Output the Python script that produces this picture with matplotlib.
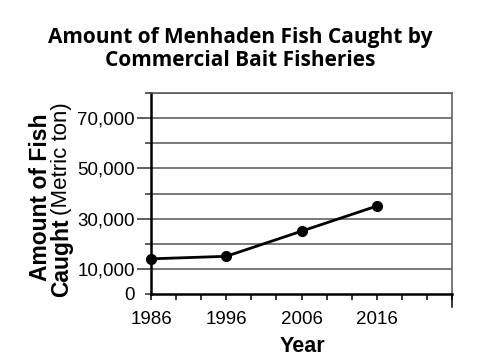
import numpy as np
from matplotlib import pyplot as plt
from matplotlib.ticker import FixedLocator, FixedFormatter

# dados
anos = [1986, 1996, 2006, 2016]
toneladas = [14000, 15000, 25000, 35000]

ticks_y_maior = [10000, 30000, 50000, 70000]
ticks_y_menor = [0, 20000, 40000, 60000, 80000]
rotulos_y_maior = ["10,000", "30,000", "50,000", "70,000"]
rotulos_y_menor = ["0", "", "", "", ""]
ticks_x_maior = [1986, 1996, 2006, 2016]

W, H = 482, 364
fig = plt.figure(figsize=(W / 100, H / 100), dpi=100)

# area do grafico em pixels: x 151-452, y 93-294
ax = fig.add_axes([151 / W, 1 - 294 / H, 301 / W, 201 / H])

ax.set_xlim(1986, 2026)
ax.set_ylim(0, 80000)

# grade horizontal a cada 10.000
for v in range(10000, 80001, 10000):
    ax.axhline(v, color="#555555", lw=1.1, zorder=1)

ax.plot(anos, toneladas, color="black", lw=2, marker="o", markersize=7,
        clip_on=False, zorder=3)

fonte = "Liberation Sans"
tam = 13.5

ax.yaxis.set_major_locator(FixedLocator(ticks_y_maior))
ax.yaxis.set_major_formatter(FixedFormatter(rotulos_y_maior))
ax.yaxis.set_minor_locator(FixedLocator(ticks_y_menor))
ax.yaxis.set_minor_formatter(FixedFormatter(rotulos_y_menor))
ax.tick_params(axis="y", which="major", length=10, width=1.1, pad=1.5,
               color="#333333", labelsize=tam)
ax.tick_params(axis="y", which="minor", length=4.3, width=1.1, pad=7.2,
               color="#333333", labelsize=tam)

ax.xaxis.set_major_locator(FixedLocator(ticks_x_maior))
ax.xaxis.set_minor_locator(FixedLocator(np.arange(1986, 2026.01, 10 / 3)))
ax.tick_params(axis="x", which="both", length=4.5, width=1.1, pad=7.5,
               color="black", labelsize=tam)

for lbl in ax.get_xticklabels() + ax.get_yticklabels() + ax.get_yticklabels(minor=True):
    lbl.set_fontfamily(fonte)

for lado in ["left", "bottom"]:
    ax.spines[lado].set_linewidth(1.8)
    ax.spines[lado].set_color("black")
for lado in ["top", "right"]:
    ax.spines[lado].set_linewidth(1.1)
    ax.spines[lado].set_color("#555555")

# tick mais longo no canto direito
ax.plot([2026, 2026], [0, -5000], color="black", lw=1.1, clip_on=False)

# titulo
fig.text(240 / W, 1 - 38 / H, "Amount of Menhaden Fish Caught by",
         ha="center", va="center", fontsize=15, fontweight="bold",
         family="Open Sans")
fig.text(240 / W, 1 - 61 / H, "Commercial Bait Fisheries",
         ha="center", va="center", fontsize=15, fontweight="bold",
         family="Open Sans")

# rotulo do eixo y em duas linhas, com pesos diferentes
fig.text(41 / W, 1 - 197 / H, "Amount of Fish", rotation=90,
         ha="center", va="center", fontsize=16.5, fontweight="bold", family=fonte)
fig.text(62 / W, 1 - 297 / H, "Caught", rotation=90,
         ha="center", va="bottom", fontsize=16.5, fontweight="bold", family=fonte)
fig.text(62 / W, 1 - 215 / H, "(Metric ton)", rotation=90,
         ha="center", va="bottom", fontsize=16, family=fonte)

fig.text(302 / W, 1 - 347 / H, "Year", ha="center", va="center",
         fontsize=15.5, fontweight="bold", family=fonte)

fig.savefig("out.png", dpi=100)
